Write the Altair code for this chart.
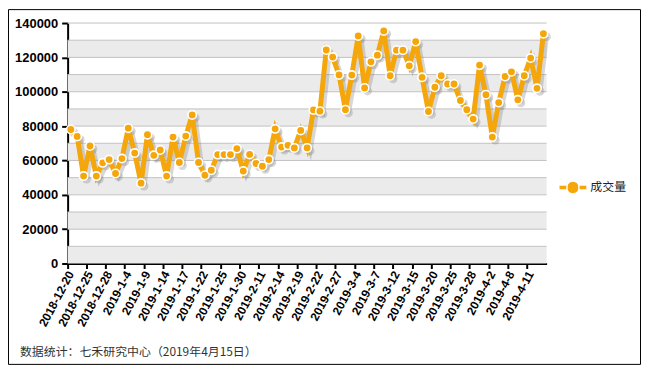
import altair as alt
import pandas as pd

dates = [
    "2018-12-20", "2018-12-21", "2018-12-24", "2018-12-25", "2018-12-26", "2018-12-27", "2018-12-28",
    "2019-1-2", "2019-1-3", "2019-1-4", "2019-1-7", "2019-1-8", "2019-1-9", "2019-1-10", "2019-1-11",
    "2019-1-14", "2019-1-15", "2019-1-16", "2019-1-17", "2019-1-18", "2019-1-21", "2019-1-22",
    "2019-1-23", "2019-1-24", "2019-1-25", "2019-1-28", "2019-1-29", "2019-1-30", "2019-1-31", "2019-2-1",
    "2019-2-11", "2019-2-12", "2019-2-13", "2019-2-14", "2019-2-15", "2019-2-18", "2019-2-19",
    "2019-2-20", "2019-2-21", "2019-2-22", "2019-2-25", "2019-2-26", "2019-2-27", "2019-2-28", "2019-3-1",
    "2019-3-4", "2019-3-5", "2019-3-6", "2019-3-7", "2019-3-8", "2019-3-11", "2019-3-12", "2019-3-13",
    "2019-3-14", "2019-3-15", "2019-3-18", "2019-3-19", "2019-3-20", "2019-3-21", "2019-3-22",
    "2019-3-25", "2019-3-26", "2019-3-27", "2019-3-28", "2019-3-29",
    "2019-4-1", "2019-4-2", "2019-4-3", "2019-4-4", "2019-4-8", "2019-4-9", "2019-4-10", "2019-4-11",
    "2019-4-12", "2019-4-15",
]

volume = [
    78000, 74000, 50900, 68400, 50900, 58600, 60500, 52400, 61100, 78800,
    64300, 46800, 75000, 63000, 66100, 50900, 73600, 58800, 74200, 86500,
    58800, 51400, 54300, 63400, 63400, 63400, 66900, 53800, 63500, 58200,
    56600, 60500, 78400, 67800, 68800, 67300, 77500, 67300, 89400, 88700,
    124300, 120200, 109800, 89500, 109700, 132500, 102200, 117400, 121300, 135400,
    109300, 124200, 124200, 115100, 129200, 108400, 88500, 102600, 109300, 104500,
    104500, 94900, 89500, 84100, 115500, 98300, 73600, 93700, 108900, 111600,
    95300, 109300, 119600, 102000, 133800,
]

series_name = "成交量"
y_ticks = [0, 20000, 40000, 60000, 80000, 100000, 120000, 140000]
band_lows = [0, 20000, 40000, 60000, 80000, 100000, 120000]
grid_values = [10000, 20000, 30000, 40000, 50000, 60000, 70000, 80000,
               90000, 100000, 110000, 120000, 130000, 140000]
footer = "数据统计：七禾研究中心（2019年4月15日）"

W, H = 482, 242
ORANGE = "#F4A60B"
SHADOW = "#7a7a7a"
FONT = "Liberation Sans"
CJK = "Noto Sans CJK SC"

df = pd.DataFrame({"date": dates, "value": volume, "series": series_name})
bands = pd.DataFrame({"lo": band_lows, "hi": [b + 10000 for b in band_lows]})
grid = pd.DataFrame({"v": grid_values})

yscale = alt.Scale(domain=[0, 140000], nice=False, zero=True)
xscale = alt.Scale(type="band", domain=dates, paddingInner=0, paddingOuter=0)

x_axis = alt.Axis(
    values=dates[::3], bandPosition=0, title=None, labelAngle=-62,
    labelAlign="right", labelBaseline="middle", labelFont=FONT,
    labelFontWeight="bold", labelFontSize=12, labelColor="#000",
    labelPadding=3, domainColor="#000", domainWidth=2, tickColor="#000",
    tickWidth=2, tickSize=5, grid=False, labelOverlap=False,
)
y_axis = alt.Axis(
    values=y_ticks, format="d", title=None, labelFont=FONT, labelFontWeight="bold",
    labelFontSize=13, labelColor="#000", labelPadding=4, domainColor="#000",
    domainWidth=2, tickColor="#000", tickWidth=2, tickSize=6, grid=False,
)

X = alt.X("date:N", scale=xscale, axis=x_axis)
Y = alt.Y("value:Q", scale=yscale, axis=y_axis)

band_layer = alt.Chart(bands).mark_rect(color="#ebebeb").encode(
    y=alt.Y("lo:Q", scale=yscale, axis=y_axis), y2="hi:Q",
    x=alt.value(0), x2=alt.value(W),
)
grid_layer = alt.Chart(grid).mark_rule(color="#c2c2c2", strokeWidth=1).encode(
    y=alt.Y("v:Q", scale=yscale, axis=y_axis)
)

shadow_line = alt.Chart(df).mark_line(
    color=SHADOW, strokeWidth=5, opacity=0.3, xOffset=3, yOffset=3, strokeJoin="miter"
).encode(x=X, y=Y)
shadow_pts = alt.Chart(df).mark_circle(
    color=SHADOW, opacity=0.3, size=80, xOffset=3, yOffset=3
).encode(x=X, y=Y)

line = alt.Chart(df).mark_line(color=ORANGE, strokeWidth=5, strokeJoin="miter").encode(x=X, y=Y)

legend_path = (
    "M-1,-0.17 L-0.42,-0.17 L-0.42,0.17 L-1,0.17 Z "
    "M0.42,-0.17 L1,-0.17 L1,0.17 L0.42,0.17 Z "
    "M0.44,0 A0.44,0.44 0 1,1 -0.44,0 A0.44,0.44 0 1,1 0.44,0 Z"
)

pts = alt.Chart(df).mark_circle(
    size=72, opacity=1, stroke="white", strokeWidth=1.6
).encode(
    x=X, y=Y,
    color=alt.Color(
        "series:N",
        scale=alt.Scale(domain=[series_name], range=[ORANGE]),
        legend=alt.Legend(
            title=None, orient="none", legendX=494, legendY=151,
            symbolType=legend_path, symbolSize=784, symbolStrokeColor="white",
            symbolStrokeWidth=1, symbolOpacity=1, labelFont=CJK,
            labelFontSize=12, labelColor="#222", labelOffset=3, padding=0,
        ),
    ),
)

footer_layer = alt.Chart(pd.DataFrame({"t": [footer]})).mark_text(
    align="left", baseline="middle", font=CJK, fontSize=12, color="#333"
).encode(x=alt.value(-48), y=alt.value(331), text="t:N")

border = alt.Chart(pd.DataFrame({"a": [0]})).mark_rect(
    fill="transparent", stroke="#000", strokeWidth=1
).encode(
    x=alt.value(-59.5), x2=alt.value(576.5), y=alt.value(-13.5), y2=alt.value(343.5)
)

chart = alt.layer(
    band_layer, grid_layer, shadow_line, shadow_pts, line, pts, footer_layer, border
).properties(width=W, height=H, padding=0, background="white").configure_view(
    stroke="transparent"
)

chart.save("out.html", embed_options={"renderer": "svg", "actions": False})
